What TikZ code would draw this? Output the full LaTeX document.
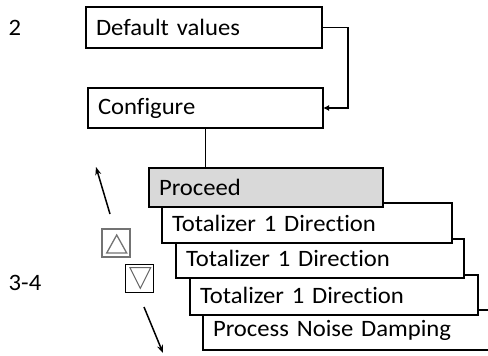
\documentclass[tikz,border=0pt]{standalone}
\usepackage{fontspec}
\setmainfont{Carlito}[FakeStretch=1.05, Ligatures=NoCommon]
\usetikzlibrary{arrows.meta}
\newcommand\boxfont{\fontsize{23.5}{27}\selectfont\spaceskip=0.13em plus 0.02em\relax}
\begin{document}
\begin{tikzpicture}[x=1pt,y=-1pt,
  box/.style={draw, line width=2pt, fill=white, anchor=north west, outer sep=0pt,
    inner xsep=10pt, inner ysep=0pt, align=left, font=\boxfont},
  lbl/.style={font=\boxfont, inner sep=0pt},
  conn/.style={line width=1.8pt},
  nav/.style={line width=1.5pt, -{Stealth[length=8pt,width=6pt]}},
  keybox/.style={draw, anchor=north west, outer sep=0pt, inner sep=0pt, minimum width=28pt, minimum height=28pt},
]
\useasboundingbox (0,0) rectangle (488,356);
\clip (0,0) rectangle (488,356);

\node[lbl] (n2) at (15,28) {2};
\node[lbl] (n34) at (25,283) {3-4};

\node[box, minimum height=41pt, text width=216pt] (dv) at (86,7) {Default values};
\node[box, minimum height=40pt, text width=215pt] (cfg) at (88,88) {Configure};

\node[box, minimum height=40pt, text width=280pt] (pn) at (203,310) {Process Noise Damping};
\node[box, minimum height=40pt, text width=268pt] (t3) at (190,275) {Totalizer 1 Direction};
\node[box, minimum height=39pt, text width=268pt] (t2) at (176,239) {Totalizer 1 Direction};
\node[box, minimum height=40pt, text width=270pt] (t1) at (162,203) {Totalizer 1 Direction};
\node[box, fill={rgb,255:red,217;green,217;blue,217}, minimum height=39pt, text width=214pt] (pr) at (149,168) {Proceed};

\coordinate (k) at (348,108);
\draw[conn, -{Latex[length=6pt,width=6pt]}] (dv.east) -| (k) -- (cfg.east);
\draw[conn] (cfg.south) -- (pr.north -| cfg.south);

% key boxes
\node[keybox, draw=black!55, line width=1.4pt] (up) at (102,229) {};
\draw[black!55, line width=1.3pt, line join=miter] (106.7,253) -- (126.7,253) -- (116.7,235) -- cycle;
\node[keybox, draw=black, line width=1pt] (dn) at (125.5,264) {};
\draw[black!60, line width=1pt] (130,267.7) -- (150.7,267.7) -- (140.3,288.3) -- cycle;

\coordinate (ua) at (110,214);
\coordinate (ub) at (96,167);
\coordinate (da) at (144,307);
\coordinate (db) at (163,353);
\draw[nav] (ua) -- (ub);
\draw[nav] (da) -- (db);
\end{tikzpicture}
\end{document}
